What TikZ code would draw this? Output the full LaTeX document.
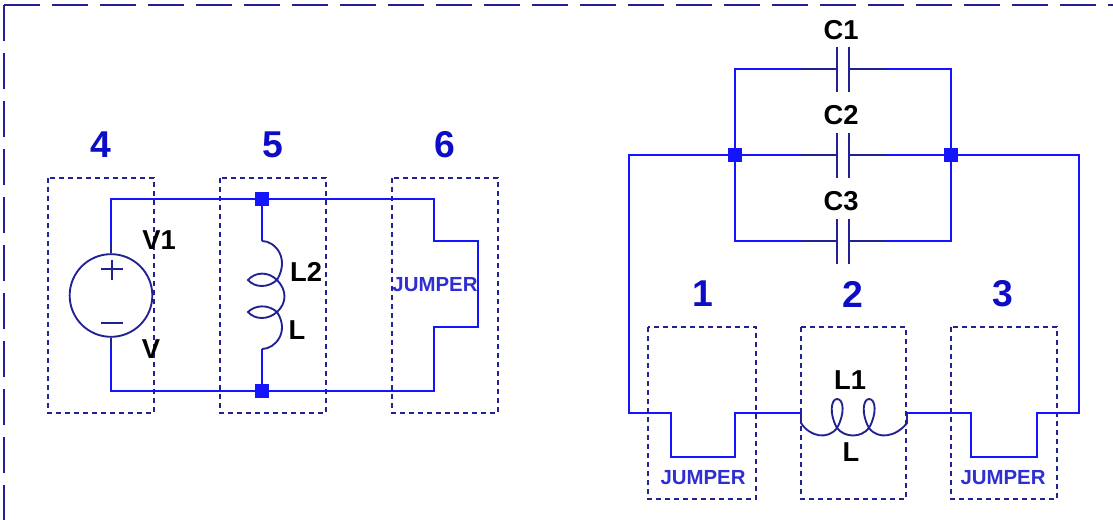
\documentclass[tikz,border=0pt]{standalone}
\usepackage{fontspec}
\setmainfont{Liberation Sans}
\definecolor{wireblue}{rgb}{0.08,0.08,1}
\definecolor{partnavy}{rgb}{0.13,0.13,0.58}
\definecolor{numblue}{rgb}{0.05,0.05,0.78}
\definecolor{jumpblue}{rgb}{0.18,0.18,0.82}
\tikzset{
  wire/.style={draw=wireblue,line width=1.7pt},
  part/.style={draw=partnavy,line width=1.4pt},
  framedash/.style={draw=partnavy,line width=1.7pt,dash pattern=on 27pt off 9pt},
  boxdash/.style={draw=partnavy,line width=1.4pt,dash pattern=on 3.4pt off 3.35pt},
  junction/.style={fill=wireblue,inner sep=0pt,minimum size=10.5pt},
  lbl/.style={font=\fontsize{20.5}{22}\selectfont\bfseries,inner sep=0pt},
  num/.style={font=\fontsize{28}{30}\selectfont\bfseries,text=numblue,inner sep=0pt},
  jump/.style={font=\fontsize{15.3}{17}\selectfont\bfseries,text=jumpblue,inner sep=0pt}
}
\begin{document}
\begin{tikzpicture}[x=0.75pt,y=0.75pt,yscale=-1,xscale=1]
\useasboundingbox (0,0) rectangle (1113,520);

%Shape: Frame
\coordinate (corner) at (4,5);
\coordinate (frameright) at (1113,5);
\coordinate (framebottom) at (4,520);
\draw [framedash] (corner) -- (frameright);
\draw [framedash] (corner) -- (framebottom);

%Shape: Rectangle
\draw [boxdash] (48,178) rectangle (154,413);
\draw [boxdash] (220,178) rectangle (326,413);
\draw [boxdash] (392,178) rectangle (498,413);
\draw [boxdash] (648,327) rectangle (756,499);
\draw [boxdash] (801,327) rectangle (906,499);
\draw [boxdash] (951,327) rectangle (1057,499);

% Left circuit
\node (jtop) at (262,199) [junction] {};
\node (jbot) at (262,391) [junction] {};
\node (vsrc) at (111,295.5) [circle,part,minimum size=62pt,inner sep=0pt] {};
\coordinate (vtop) at (111,243);
\coordinate (vbot) at (111,348);
\coordinate (ltop) at (262,241);
\coordinate (lbot) at (262,349);
\draw [wire] (vtop) -- (111,199) -- (jtop) -- (434,199) -- (434,241) -- (478,241) -- (478,327) -- (434,327) -- (434,391) -- (jbot) -- (111,391) -- (vbot);
\draw [part] (vtop) -- (vsrc.north);
\draw [part] (vsrc.south) -- (vbot);
\draw [part] (101,269) -- (123,269);
\draw [part] (112,260) -- (112,280);
\draw [part] (101,323) -- (123,323);
\draw [wire] (jtop) -- (ltop);
\draw [wire] (lbot) -- (jbot);
\draw [part] (ltop) .. controls (275,241) and (290,258) .. (277,280)
  .. controls (268,271) and (255,272) .. (248,280) .. controls (255,288) and (268,288) .. (277,280)
  .. controls (287,290) and (287,303) .. (277,312)
  .. controls (268,304) and (255,305) .. (248,312) .. controls (255,320) and (268,320) .. (277,312)
  .. controls (290,332) and (275,349) .. (lbot);

% Capacitors
\node (jleft) at (735,155) [junction] {};
\node (jright) at (951,155) [junction] {};
\foreach \cname/\cy in {a/69,b/155,c/241}{
  \coordinate (pl\cname) at (837,\cy);
  \coordinate (pr\cname) at (849,\cy);
  \coordinate (ll\cname) at (802,\cy);
  \coordinate (lr\cname) at (885,\cy);
  \draw [part] (837,\cy-22) -- (837,\cy+23);
  \draw [part] (849,\cy-22) -- (849,\cy+23);
  \draw [part] (ll\cname) -- (pl\cname);
  \draw [part] (pr\cname) -- (lr\cname);
}
\draw [wire] (lla) -- (735,69) -- (jleft) -- (735,241) -- (llc);
\draw [wire] (lra) -- (951,69) -- (jright) -- (951,241) -- (lrc);
\draw [wire] (llb) -- (jleft);
\draw [wire] (lrb) -- (jright);

% Right circuit
\coordinate (coilin) at (801,413);
\coordinate (coilout) at (907,413);
\draw [wire] (jleft) -- (629,155) -- (629,413) -- (671,413) -- (671,457) -- (735,457) -- (735,413) -- (coilin);
\draw [wire] (jright) -- (1079,155) -- (1079,413) -- (1037,413) -- (1037,457) -- (971,457) -- (971,413) -- (coilout);
\draw [part] (coilin) -- (801,423) .. controls (810,437) and (828,440) .. (837,428)
  .. controls (829,414) and (831,399) .. (837,399) .. controls (844,399) and (845,414) .. (837,428)
  .. controls (845,438) and (861,438) .. (869,428)
  .. controls (861,414) and (863,399) .. (869,399) .. controls (876,399) and (877,414) .. (869,428)
  .. controls (878,440) and (896,437) .. (907,423) -- (coilout);

% Text Node
\node (num4) at (101,145) [num] {4};
\node (num5) at (273,145) [num] {5};
\node (num6) at (445,145) [num] {6};
\node (num1) at (703,294) [num] {1};
\node (num2) at (853,294) [num] {2};
\node (num3) at (1003,294) [num] {3};
% Text Node
\node (lblv1) at (159,240) [lbl] {V1};
\node (lblv) at (151,349) [lbl] {V};
\node (lbll2) at (306,272) [lbl] {L2};
\node (lbll) at (297,330) [lbl] {L};
\node (lbll1) at (850,380) [lbl] {L1};
\node (lbllb) at (851,452) [lbl] {L};
\node (lblc1) at (841,30) [lbl] {C1};
\node (lblc2) at (841,115) [lbl] {C2};
\node (lblc3) at (841,201) [lbl] {C3};
% Text Node
\node (jump6) at (435,285) [jump] {JUMPER};
\node (jump1) at (703,478) [jump] {JUMPER};
\node (jump3) at (1003,478) [jump] {JUMPER};

\end{tikzpicture}
\end{document}
